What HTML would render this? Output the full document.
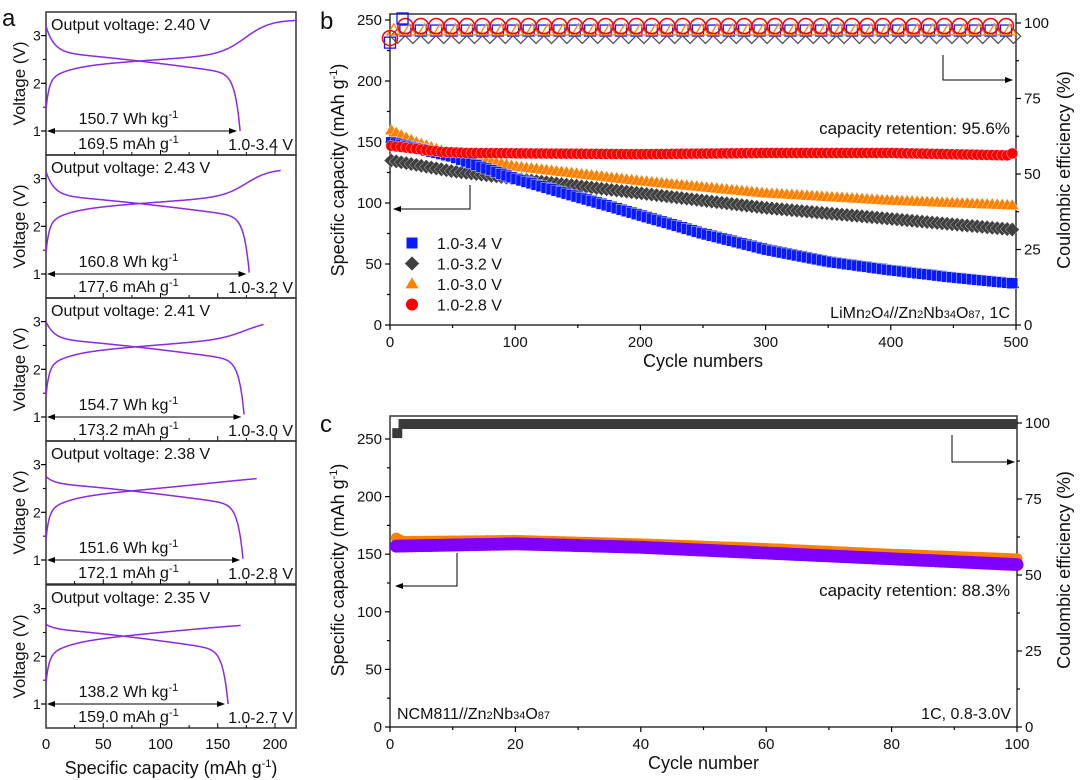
<!DOCTYPE html>
<html><head><meta charset="utf-8"><style>
html,body{margin:0;padding:0;background:#fff;}
svg{display:block;font-family:"Liberation Sans",Arial,sans-serif;}
</style></head><body>
<svg id="s" width="1080" height="780" viewBox="0 0 1080 780" xmlns="http://www.w3.org/2000/svg">
<defs>
<marker id="ah" markerWidth="8" markerHeight="6" refX="7" refY="3" orient="auto"><path d="M0,0 L8,3 L0,6 Z" fill="#000"/></marker>
<marker id="ahs" markerWidth="8" markerHeight="6" refX="1" refY="3" orient="auto"><path d="M8,0 L0,3 L8,6 Z" fill="#000"/></marker>
</defs>
<g id="g"></g>
</svg>
<script>
const NS="http://www.w3.org/2000/svg";const G=document.getElementById('g');
function el(t,a,txt,p){const e=document.createElementNS(NS,t);for(const k in a)e.setAttribute(k,a[k]);if(txt!=null)e.innerHTML=txt;(p||G).appendChild(e);return e;}
function line(x1,y1,x2,y2,o){return el('line',Object.assign({x1,y1,x2,y2,stroke:'#000','stroke-width':1.5},o||{}));}
function text(x,y,s,o){return el('text',Object.assign({x,y,'font-size':15,fill:'#111'},o||{}),s);}
function lerp(pts,x){for(let i=0;i<pts.length-1;i++){if(x<=pts[i+1][0]){const t=(x-pts[i][0])/(pts[i+1][0]-pts[i][0]);return pts[i][1]+t*(pts[i+1][1]-pts[i][1]);}}return pts[pts.length-1][1];}

// ===== Panel a =====
const ax0=46,ax1=296,sx=1.145;
const tops=[12,155,298,441,585],H=143;
const subs=[
 {ov:'2.40',wh:'150.7',mah:'169.5',rng:'1.0-3.4 V',cap:169.5,cend:219,cv:3.33,dv0:3.2,mid:2.44,c0:0.8,w:0.05},
 {ov:'2.43',wh:'160.8',mah:'177.6',rng:'1.0-3.2 V',cap:177.6,cend:205,cv:3.2,dv0:3.15,mid:2.44,c0:0.86,w:0.05},
 {ov:'2.41',wh:'154.7',mah:'173.2',rng:'1.0-3.0 V',cap:173.2,cend:190,cv:3.02,dv0:3.0,mid:2.43,c0:0.93,w:0.06},
 {ov:'2.38',wh:'151.6',mah:'172.1',rng:'1.0-2.8 V',cap:172.1,cend:184,cv:2.8,dv0:2.75,mid:2.4,c0:1.1,w:0.2},
 {ov:'2.35',wh:'138.2',mah:'159.0',rng:'1.0-2.7 V',cap:159.0,cend:170,cv:2.7,dv0:2.67,mid:2.37,c0:1.2,w:0.3}];
text(2,26,'a',{'font-size':24});
subs.forEach((s,i)=>{
 const top=tops[i],bot=top+H;
 const Y=v=>bot-24-(v-1)*47.7, X=c=>ax0+c*sx;
 el('rect',{x:ax0,y:top,width:ax1-ax0,height:H,fill:'none',stroke:'#333','stroke-width':1.5});
 [1,2,3].forEach(v=>{line(ax0-5,Y(v),ax0,Y(v),{'stroke-width':1.2});text(33,Y(v)+5,v,{'font-size':14});});
 [1.5,2.5,3.5].forEach(v=>{if(Y(v)>top)line(ax0-3,Y(v),ax0,Y(v),{'stroke-width':1});});
 for(let c=25;c<=200;c+=25)line(X(c),bot,X(c),bot-(c%50?3:5),{'stroke-width':1});
 el('text',{x:0,y:0,'font-size':17,'text-anchor':'middle',fill:'#111',transform:`translate(25 ${top+H/2}) rotate(-90)`},'Voltage (V)');
 text(51,top+18,'Output voltage: '+s.ov+' V',{'font-size':16});
 const m=s.mid, cap=s.cap, ce=s.cend;
 // charge
 const base=c=>m-0.1+0.35*(c/ce);
 const chv=c=>{let v=base(c)-(base(0)-1.35)*Math.exp(-c/2.5)*0.6-0.3*Math.exp(-c/18);
   const sg=1/(1+Math.exp(-((c/ce)-s.c0)/s.w));return v+(s.cv-v)*sg;};
 let d='';for(let c=0;c<=ce;c+=0.5){const v=Math.min(chv(c),s.cv);d+=(c?'L':'M')+X(c).toFixed(1)+','+Y(v).toFixed(1);}
 el('path',{d,fill:'none',stroke:'#8a2be2','stroke-width':1.5});
 // discharge
 const db=c=>m+0.2-0.45*Math.pow(c/cap,1.3);
 const A=db(cap)-1;
 const dv=c=>db(c)+(s.dv0-m-0.2)*Math.exp(-c/7)-A*Math.exp((c-cap)/4.5);
 d='';for(let c=0;c<=cap;c+=0.5){const v=dv(c);d+=(c?'L':'M')+X(c).toFixed(1)+','+Y(v).toFixed(1);}
 el('path',{d,fill:'none',stroke:'#8a2be2','stroke-width':1.5});
 line(ax0+2,Y(1),X(cap)-4,Y(1),{'stroke-width':1,'marker-end':'url(#ah)','marker-start':'url(#ahs)'});
 text(X(72),Y(1)-7,s.wh+' Wh kg<tspan dy="-6" font-size="11">-1</tspan>',{'font-size':16,'text-anchor':'middle'});
 text(X(72),Y(1)+18,s.mah+' mAh g<tspan dy="-6" font-size="11">-1</tspan>',{'font-size':16,'text-anchor':'middle'});
 text(ax1-3,Y(1)+19,s.rng,{'font-size':16,'text-anchor':'end'});
});
[0,50,100,150,200].forEach(c=>text(ax0+c*sx,749,c,{'font-size':15,'text-anchor':'middle'}));
text(171,774,'Specific capacity (mAh g<tspan dy="-7" font-size="11">-1</tspan><tspan dy="7">)</tspan>',{'font-size':18,'text-anchor':'middle'});

function mk(shape,x,y,r,fill,stroke,p){
 if(shape=='s')return el('rect',{x:x-r,y:y-r,width:2*r,height:2*r,fill,stroke,'stroke-width':1.3},null,p);
 if(shape=='c')return el('circle',{cx:x,cy:y,r,fill,stroke,'stroke-width':1.5},null,p);
 if(shape=='d')return el('path',{d:`M${x},${y-r*1.3}L${x+r*1.3},${y}L${x},${y+r*1.3}L${x-r*1.3},${y}Z`,fill,stroke,'stroke-width':1.3},null,p);
 if(shape=='t')return el('path',{d:`M${x},${y-r*1.2}L${x+r*1.2},${y+r*0.8}L${x-r*1.2},${y+r*0.8}Z`,fill,stroke,'stroke-width':1.3},null,p);
}
function frame(L,R,T,B,xt,xlab,yl,yr,ylab,rlab,ylabY){
 el('rect',{x:L,y:T,width:R-L,height:B-T,fill:'none',stroke:'#333','stroke-width':1.5});
 xt.forEach(([px,lab,maj])=>{line(px,B,px,B+(maj?5:3),{'stroke-width':1.2});if(lab!=null)text(px,B+22,lab,{'font-size':15,'text-anchor':'middle'});});
 yl.forEach(([py,lab])=>{line(L-(lab!=null?5:3),py,L,py,{'stroke-width':1.2});if(lab!=null)text(L-8,py+5,lab,{'font-size':15,'text-anchor':'end'});});
 yr.forEach(([py,lab])=>{line(R,py,R+(lab!=null?5:3),py,{'stroke-width':1.2});if(lab!=null)text(R+8,py+5,lab,{'font-size':15});});
 text((L+R)/2,B+42,xlab,{'font-size':18,'text-anchor':'middle'});
 el('text',{x:0,y:0,'font-size':18,'text-anchor':'middle',fill:'#111',transform:`translate(344 ${ylabY}) rotate(-90)`},ylab);
 el('text',{x:0,y:0,'font-size':18,'text-anchor':'middle',fill:'#111',transform:`translate(1070 ${ylabY}) rotate(-90)`},rlab);
}
const sup='<tspan dy="-7" font-size="11">-1</tspan><tspan dy="7">)</tspan>';

// ===== Panel b =====
{
 const L=390,R=1016,T=14,B=325;
 const X=n=>L+n*1.252, Y=v=>B-v*1.22, YR=v=>B-v*3.02;
 text(320,29,'b',{'font-size':24});
 const xt=[];for(let n=0;n<=500;n+=50)xt.push([X(n),n%100?null:n,n%100==0]);
 const yl=[];for(let v=0;v<=250;v+=25)yl.push([Y(v),v%50?null:v]);
 const yr=[];for(let v=0;v<=100;v+=12.5)yr.push([YR(v),v%25?null:v]);
 frame(L,R,T,B,xt,'Cycle numbers',yl,yr,'Specific capacity (mAh g'+sup,'Coulombic efficiency (%)',170);
 const pg=el('g',{});
 const ser=[
  {sh:'t',c:'#ff8000',p:[[0,160],[20,150],[50,140],[100,130],[200,118],[300,108],[400,102],[500,98]]},
  {sh:'d',c:'#404040',p:[[0,135],[50,126],[100,120],[200,108],[300,96],[400,87],[500,78]]},
  {sh:'s',c:'#0a1aff',p:[[0,150],[50,138],[100,120],[150,105],[200,90],[250,75],[300,62],[350,52],[400,45],[450,39],[500,34]]},
  {sh:'c',c:'#ff0000',p:[[0,147],[40,142],[60,141],[200,140],[300,141],[400,141],[495,139],[500,143]]}];
 ser.forEach(s=>{for(let n=1;n<=500;n+=4){mk(s.sh,X(n),Y(lerp(s.p,n)),5.5,s.c,'#fff',pg).setAttribute('stroke-width',0.4);}});
 const ce=[{sh:'s',c:'#0a1aff',v:97.5,off:0},{sh:'d',c:'#505050',v:95.6,off:6},{sh:'t',c:'#ff8000',v:97.5,off:3},{sh:'c',c:'#ff0000',v:99,off:0}];
 ce.forEach(s=>{for(let n=s.off;n<=500;n+=12.3){let v=s.v;if(n<3)v=s.v-4;mk(s.sh,X(n),YR(v),s.sh=='c'?7.5:5.5,'none',s.c,pg);}});
 mk('s',X(10),YR(101.5),5.5,'none','#0a1aff',pg);
 el('path',{d:`M470,185 L470,209 L394,209`,fill:'none',stroke:'#000','stroke-width':1,'marker-end':'url(#ah)'});
 el('path',{d:`M943,55 L943,80 L1012,80`,fill:'none',stroke:'#000','stroke-width':1,'marker-end':'url(#ah)'});
 text(1010,134,'capacity retention: 95.6%',{'font-size':17,'text-anchor':'end'});
 text(1010,318,'LiMn<tspan font-size="11">2</tspan>O<tspan font-size="11">4</tspan>//Zn<tspan font-size="11">2</tspan>Nb<tspan font-size="11">34</tspan>O<tspan font-size="11">87</tspan>, 1C',{'font-size':16,'text-anchor':'end'});
 const lg=[['s','#0a1aff','1.0-3.4 V'],['d','#404040','1.0-3.2 V'],['t','#ff8000','1.0-3.0 V'],['c','#ff0000','1.0-2.8 V']];
 lg.forEach((l,i)=>{const y=243+i*20.5;mk(l[0],412,y,l[0]=='c'?6:5.5,l[1],'none');text(437,y+6,l[2],{'font-size':16});});
}
// ===== Panel c =====
{
 const L=390,R=1017,T=416,B=727;
 const X=n=>L+n*6.27, Y=v=>B-v*1.152, YR=v=>B-v*3.04;
 text(320,432,'c',{'font-size':24});
 const xt=[];for(let n=0;n<=100;n+=10)xt.push([X(n),n%20?null:n,n%20==0]);
 const yl=[];for(let v=0;v<=250;v+=25)yl.push([Y(v),v%50?null:v]);
 const yr=[];for(let v=0;v<=100;v+=12.5)yr.push([YR(v),v%25?null:v]);
 frame(L,R,T,B,xt,'Cycle number',yl,yr,'Specific capacity (mAh g'+sup,'Coulombic efficiency (%)',570);
 el('rect',{x:X(1)-4,y:YR(97)-4,width:10,height:10,fill:'#3a3a3a'});
 el('rect',{x:X(2)-4,y:YR(100)-4,width:X(100)-X(2)+4,height:10,fill:'#3a3a3a'});
 const pg=el('g',{});
 const op=[[1,164],[2,161],[20,162],[40,159],[60,155],[80,150],[100,146]];
 const pp=[[1,157],[20,159],[40,156],[60,151],[80,146],[100,141]];
 for(let n=1;n<=100;n+=0.5)mk('c',X(n),Y(lerp(op,n)),5.5,'#ff8000','none',pg);
 for(let n=1;n<=100;n+=0.5)mk('c',X(n),Y(lerp(pp,n)),6.5,'#8000ff','none',pg);
 el('path',{d:`M457,553 L457,586 L396,586`,fill:'none',stroke:'#000','stroke-width':1,'marker-end':'url(#ah)'});
 el('path',{d:`M952,435 L952,462 L1014,462`,fill:'none',stroke:'#000','stroke-width':1,'marker-end':'url(#ah)'});
 text(1010,596,'capacity retention: 88.3%',{'font-size':17,'text-anchor':'end'});
 text(397,719,'NCM811//Zn<tspan font-size="11">2</tspan>Nb<tspan font-size="11">34</tspan>O<tspan font-size="11">87</tspan>',{'font-size':16});
 text(1011,719,'1C, 0.8-3.0V',{'font-size':16,'text-anchor':'end'});
}
</script>
</body></html>
